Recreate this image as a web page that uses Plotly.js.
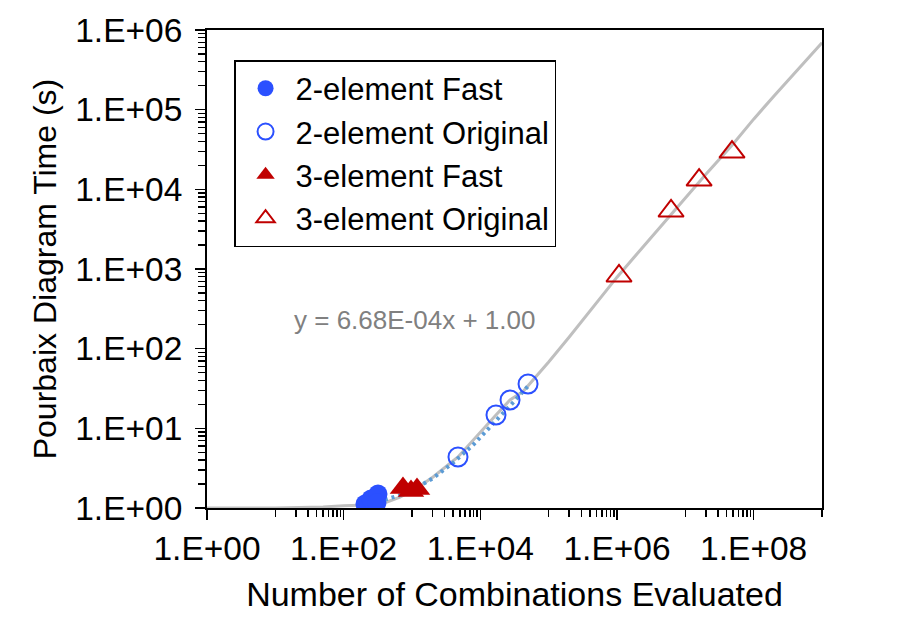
<!DOCTYPE html>
<html>
<head>
<meta charset="utf-8">
<script src="https://cdn.plot.ly/plotly-3.0.1.min.js"></script>
<style>html,body{margin:0;padding:0;background:#fff;}#chart{width:899px;height:635px;}</style>
</head>
<body>
<div id="chart"></div>
<script>
// ---- data ----
var fast2X = [205, 251, 318, 307];
var fast2Y = [1.12, 1.30, 1.50, 1.16];

var orig2X = [4710, 16950, 27200, 49900];
var orig2Y = [4.37, 14.7, 22.7, 36];

var fast3X = [738, 967, 1184];
var fast3Y = [1.78, 1.63, 1.73];

var orig3X = [1.07e6, 6.18e6, 1.59e7, 4.82e7];
var orig3Y = [817, 5345, 13090, 29400];

// grey reference curve
var curveX = [1, 10, 50, 100, 219, 431, 667, 1184, 2030, 4710, 16950, 27200, 42100, 70000, 1e5, 2e5, 5e5, 1e6, 2e6, 5e6, 1e7, 2e7, 5e7, 1e8, 2e8, 5e8, 1e9];
var curveY = [1.0, 1.0, 1.03, 1.07, 1.09, 1.19, 1.37, 1.78, 2.45, 4.37, 14.7, 22.7, 29, 47, 68, 140, 370, 790, 1580, 3900, 7900, 15500, 37000, 76000, 150000, 360000, 690000];

// dotted trendline of the 2-element data
var trendX = [200, 400, 700, 1000, 2000, 4000, 8000, 15000, 30000, 50000];
var trendY = [1.13, 1.27, 1.47, 1.67, 2.35, 3.7, 6.3, 11, 21, 34];
var trendLabel = 'y = 6.68E-04x + 1.00';

// axis ticks
var xMajorVals = [1, 1e2, 1e4, 1e6, 1e8];
var xMajorText = ['1.E+00', '1.E+02', '1.E+04', '1.E+06', '1.E+08'];
var xMinorVals = [10,20,30,40,50,60,70,80,90,
                  1e3,2e3,3e3,4e3,5e3,6e3,7e3,8e3,9e3,
                  1e5,2e5,3e5,4e5,5e5,6e5,7e5,8e5,9e5,
                  1e7,2e7,3e7,4e7,5e7,6e7,7e7,8e7,9e7, 1e9];
var yMajorVals = [1, 10, 100, 1e3, 1e4, 1e5, 1e6];
var yMajorText = ['1.E+00', '1.E+01', '1.E+02', '1.E+03', '1.E+04', '1.E+05', '1.E+06'];
var yMinorVals = [];
[1,10,100,1e3,1e4,1e5].forEach(function(d){ [2,3,4,5,6,7,8,9].forEach(function(m){ yMinorVals.push(m*d); }); });

var seriesNames = ['2-element Fast', '2-element Original', '3-element Fast', '3-element Original'];

var BLUE = '#2b50ff', RED = '#c00000';
var FONT = 'Liberation Sans, Arial, Helvetica, sans-serif';

var traces = [
  {x: curveX, y: curveY, mode: 'lines', line: {color: '#bfbfbf', width: 3}, showlegend: false, hoverinfo: 'skip'},
  {x: trendX, y: trendY, mode: 'lines', line: {color: '#5b9bd5', width: 4, dash: '3px,4px'}, showlegend: false, hoverinfo: 'skip'},
  {x: fast2X, y: fast2Y, mode: 'markers', name: seriesNames[0], marker: {symbol: 'circle', size: 19, color: BLUE}},
  {x: orig2X, y: orig2Y, mode: 'markers', name: seriesNames[1], marker: {symbol: 'circle-open', size: 19, color: BLUE, line: {width: 2, color: BLUE}}},
  {x: fast3X, y: fast3Y, mode: 'markers', name: seriesNames[2], marker: {symbol: 'triangle-up', size: 23, color: RED}},
  {x: orig3X, y: orig3Y, mode: 'markers', name: seriesNames[3], marker: {symbol: 'triangle-up-open', size: 22, color: RED, line: {width: 2, color: RED}}}
];

var layout = {
  width: 899, height: 635,
  margin: {l: 207, r: 77, t: 30, b: 127},
  paper_bgcolor: '#fff', plot_bgcolor: '#fff',
  font: {family: FONT, size: 33, color: '#000'},
  showlegend: true,
  legend: {
    x: 0.044, y: 0.937, xanchor: 'left', yanchor: 'top',
    bgcolor: '#fff', bordercolor: '#000', borderwidth: 1.5,
    font: {family: FONT, size: 31, color: '#000'},
    itemwidth: 50, tracegroupgap: 0
  },
  xaxis: {
    type: 'log', range: [0, 9],
    showgrid: false, zeroline: false,
    showline: true, linecolor: '#000', linewidth: 2, mirror: true,
    ticks: 'outside', ticklen: 10, tickwidth: 1.5, tickcolor: '#000',
    tickmode: 'array', tickvals: xMajorVals, ticktext: xMajorText,
    tickfont: {family: FONT, size: 33.5},
    minor: {tickmode: 'array', tickvals: xMinorVals, ticks: 'outside', ticklen: 7, tickwidth: 1.5, tickcolor: '#000', showgrid: false},
    title: {text: 'Number of Combinations Evaluated', font: {family: FONT, size: 34}, standoff: 16}
  },
  yaxis: {
    type: 'log', range: [0, 6],
    showgrid: false, zeroline: false,
    showline: true, linecolor: '#000', linewidth: 2, mirror: true,
    ticks: 'outside', ticklen: 10, tickwidth: 1.5, tickcolor: '#000',
    tickmode: 'array', tickvals: yMajorVals, ticktext: yMajorText,
    tickfont: {family: FONT, size: 33.5},
    ticklabelstandoff: 6,
    minor: {tickmode: 'array', tickvals: yMinorVals, ticks: 'outside', ticklen: 7, tickwidth: 1.5, tickcolor: '#000', showgrid: false},
    title: {text: 'Pourbaix Diagram Time (s)', font: {family: FONT, size: 32}, standoff: 9}
  },
  annotations: [
    {xref: 'paper', yref: 'paper', x: 0.338, y: 0.393, xanchor: 'center', yanchor: 'middle',
     text: trendLabel, showarrow: false, font: {family: FONT, size: 26, color: '#808080'}}
  ]
};

Plotly.newPlot('chart', traces, layout, {displayModeBar: false, staticPlot: true});
</script>
</body>
</html>
